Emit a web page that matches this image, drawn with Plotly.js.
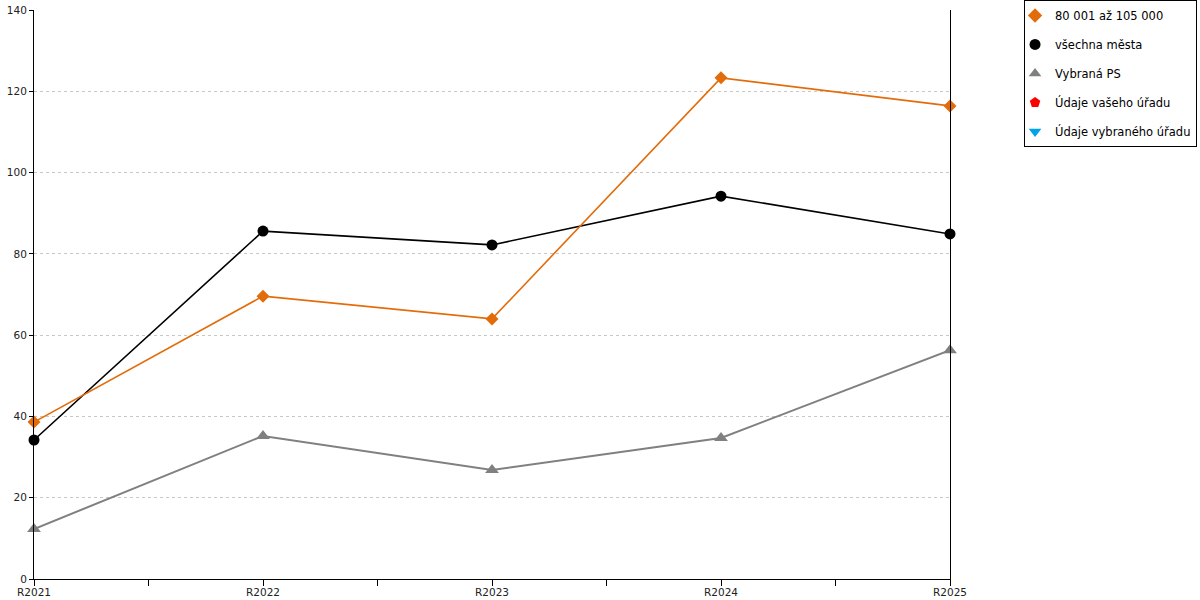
<!DOCTYPE html>
<html>
<head>
<meta charset="utf-8">
<script src="https://cdn.plot.ly/plotly-3.0.1.min.js"></script>
<style>
  html, body { margin: 0; padding: 0; background: #fff; }
  #graf { width: 1200px; height: 600px; }
</style>
</head>
<body>
<div id="graf"></div>
<script>
// roky na ose x
var roky = ['R2021', 'R2022', 'R2023', 'R2024', 'R2025'];

// hodnoty řad
var velikostniSkupina = [38.6, 69.6, 64.0, 123.3, 116.4];
var vsechnaMesta = [34.2, 85.6, 82.2, 94.2, 84.9];
var vybranaPS = [12.3, 35.2, 26.8, 34.7, 56.3];

var nazvy = ['80 001 až 105 000', 'všechna města', 'Vybraná PS', 'Údaje vašeho úřadu', 'Údaje vybraného úřadu'];

var idx = roky.map(function (r, i) { return i; });

function rada(y, barva, symbol, velikost, sirka) {
  return {
    x: idx, y: y, type: 'scatter', mode: 'lines+markers',
    line: { color: barva, width: sirka },
    marker: { color: barva, symbol: symbol, size: velikost },
    showlegend: false, hoverinfo: 'y', cliponaxis: false
  };
}

// jen pro legendu (bez čar)
function legenda(nazev, barva, symbol, skupina) {
  return {
    x: [null], y: [null], type: 'scatter', mode: 'markers',
    name: nazev, legendgroup: skupina,
    marker: { color: barva, symbol: symbol, size: 11 }
  };
}

var data = [
  rada(vybranaPS, '#808080', 'triangle-up', 12, 2),
  rada(vsechnaMesta, '#000000', 'circle', 11, 1.6),
  rada(velikostniSkupina, '#e36c0a', 'diamond', 10, 1.6),
  legenda(nazvy[0], '#e36c0a', 'diamond', 'a'),
  legenda(nazvy[1], '#000000', 'circle', 'b'),
  legenda(nazvy[2], '#808080', 'triangle-up', 'c'),
  legenda(nazvy[3], '#ff0000', 'pentagon', 'd'),
  legenda(nazvy[4], '#00a2e8', 'triangle-down', 'e')
];

var layout = {
  width: 1200, height: 600,
  margin: { l: 34, r: 250, t: 10, b: 21, autoexpand: false },
  paper_bgcolor: '#fff', plot_bgcolor: '#fff',
  font: { family: 'DejaVu Sans, Verdana, sans-serif', size: 11, color: '#222' },
  xaxis: {
    range: [0, roky.length - 1],
    tickvals: idx, ticktext: roky,
    showgrid: false, zeroline: false,
    showline: true, linecolor: '#000', linewidth: 1,
    ticks: 'outside', ticklen: 6, tickcolor: '#000',
    minor: { dtick: 0.5, ticks: 'outside', ticklen: 6, tickcolor: '#000', showgrid: false },
    tickfont: { size: 10.5 },
    ticklabelstandoff: -3,
    automargin: false
  },
  yaxis: {
    range: [0, 140], dtick: 20,
    showgrid: true, gridcolor: '#c8c8c8', griddash: 'dot', gridwidth: 1,
    zeroline: false,
    showline: true, linecolor: '#000', linewidth: 1, mirror: true,
    ticks: 'outside', ticklen: 4, tickcolor: '#000',
    tickfont: { size: 10.5 },
    automargin: false
  },
  legend: {
    x: 1.2697, y: 1.0176, xanchor: 'right', yanchor: 'top',
    bordercolor: '#000', borderwidth: 1, bgcolor: '#fff',
    font: { size: 11.5, color: '#000' },
    traceorder: 'grouped', tracegroupgap: 10,
    itemwidth: 30, indentation: -10
  }
};

Plotly.newPlot('graf', data, layout, { displayModeBar: false, staticPlot: true });
</script>
</body>
</html>
